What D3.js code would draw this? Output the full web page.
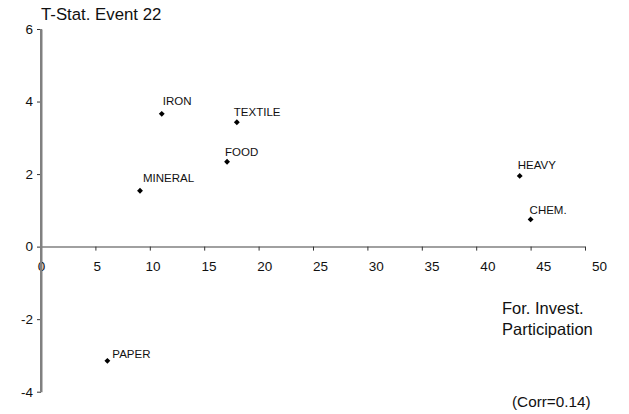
<!DOCTYPE html>
<html>
<head>
<meta charset="utf-8">
<script src="https://cdn.jsdelivr.net/npm/d3@7"></script>
<style>
  html, body { margin: 0; padding: 0; background: #fff; }
  svg { display: block; font-family: "Liberation Sans", Arial, sans-serif; }
</style>
</head>
<body>
<svg id="chart" width="629" height="414"></svg>
<script>
// ---- data ----
const industries = ["IRON", "TEXTILE", "FOOD", "MINERAL", "HEAVY", "CHEM.", "PAPER"];
const forInvest  = [11.1, 18.0, 17.1, 9.1, 44.0, 45.0, 6.1];
const tStat      = [3.66, 3.43, 2.34, 1.54, 1.95, 0.75, -3.15];
const xTicks = [0, 5, 10, 15, 20, 25, 30, 35, 40, 45, 50];
const yTicks = [-4, -2, 0, 2, 4, 6];
const titleText = "T-Stat. Event 22";
const xLabelLines = ["For. Invest.", "Participation"];
const corrText = "(Corr=0.14)";

// ---- layout ----
const svg = d3.select("#chart");
const x = d3.scaleLinear().domain([0, 50]).range([41, 585]);
const y = d3.scaleLinear().domain([-4, 6]).range([391.7, 29]);
const fmt = d => String(d);

// label nudges (px) relative to the marker
const nudge = {
  "IRON": [1, -9], "TEXTILE": [-3, -6], "FOOD": [-2, -6], "MINERAL": [3, -9],
  "HEAVY": [-2, -7], "CHEM.": [-1, -5], "PAPER": [5, -3]
};

// y axis
const yAxis = svg.append("g")
  .attr("transform", `translate(${x(0)},0)`)
  .call(d3.axisLeft(y).tickValues(yTicks).tickFormat(fmt).tickSize(4).tickSizeOuter(0).tickPadding(4));
yAxis.select(".domain").attr("stroke", "#808080").attr("stroke-width", 2);
yAxis.selectAll(".tick line").attr("stroke", "#333");
yAxis.selectAll(".tick text").attr("font-size", 13.5).attr("fill", "#111")
  .attr("font-family", "Liberation Sans, Arial, sans-serif");

// x axis
const xAxis = svg.append("g")
  .attr("transform", `translate(0,${y(0)})`)
  .call(d3.axisBottom(x).tickValues(xTicks).tickFormat(fmt).tickSize(4).tickSizeOuter(0).tickPadding(11));
xAxis.select(".domain").attr("stroke", "#808080").attr("stroke-width", 1.5);
xAxis.selectAll(".tick line").attr("stroke", "#333");
xAxis.selectAll(".tick text").attr("font-size", 13.5).attr("fill", "#111")
  .attr("font-family", "Liberation Sans, Arial, sans-serif")
  .attr("x", d => d * 0.28);

// redraw y axis line on top of x axis
svg.append("line")
  .attr("x1", x(0)).attr("x2", x(0))
  .attr("y1", y(6)).attr("y2", y(-4))
  .attr("stroke", "#808080").attr("stroke-width", 2);

// points
const pts = industries.map((n, i) => ({ name: n, fx: forInvest[i], ty: tStat[i] }));
const diamond = d3.symbol().type(d3.symbolDiamond2).size(22);
svg.append("g").selectAll("path").data(pts).join("path")
  .attr("d", diamond)
  .attr("transform", d => `translate(${x(d.fx)},${y(d.ty)})`)
  .attr("fill", "#000");

svg.append("g").selectAll("text").data(pts).join("text")
  .attr("x", d => x(d.fx) + nudge[d.name][0])
  .attr("y", d => y(d.ty) + nudge[d.name][1])
  .attr("font-size", 11.5)
  .attr("fill", "#111")
  .text(d => d.name);

// title
svg.append("text").attr("x", 41).attr("y", 20)
  .attr("font-size", 16.8).attr("fill", "#111").text(titleText);

// x axis label
svg.append("text").attr("x", 502).attr("y", 314)
  .attr("font-size", 16.5).attr("fill", "#111")
  .selectAll("tspan").data(xLabelLines).join("tspan")
  .attr("x", 502).attr("dy", (d, i) => i === 0 ? 0 : 21)
  .text(d => d);

// corr
svg.append("text").attr("x", 512).attr("y", 406.5)
  .attr("font-size", 15.3).attr("fill", "#111").text(corrText);
</script>
</body>
</html>
